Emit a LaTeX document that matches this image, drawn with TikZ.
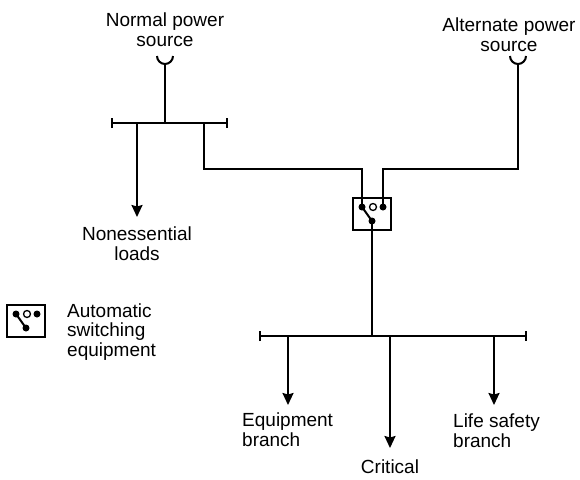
\documentclass[tikz,border=0pt]{standalone}
\usepackage{fontspec}
\setmainfont{Liberation Sans}
\usetikzlibrary{arrows.meta}
\tikzset{
  wire/.style={line width=2pt},
  feed/.style={wire,-{Stealth[length=12pt,width=11pt,inset=1.5pt]}},
  bus/.style={wire,{Bar[width=10pt]}-{Bar[width=10pt]}},
  lbl/.style={font=\fontsize{19}{19.5}\selectfont,text=black,inner sep=0pt},
  dotc/.style={circle,fill,inner sep=0pt,minimum size=7pt},
  opendot/.style={circle,draw,line width=1.3pt,inner sep=0pt,minimum size=7pt},
  switchbox/.pic={
    \draw[line width=2.4pt] (-19,-16) rectangle (19,16);
    \node[dotc] (-l) at (-10,-7) {};
    \node[opendot] (-o) at (1,-7) {};
    \node[dotc] (-r) at (11,-7) {};
    \node[dotc] (-b) at (0,7) {};
    \draw[wire] (-l.center) -- (-b.center);
  }
}
\begin{document}
\begin{tikzpicture}[x=1pt,y=-1pt]
  \useasboundingbox (0,0) rectangle (580,479);
  % sources
  \node[lbl,align=center,anchor=base] (normal) at (165,46) {Normal power\\source};
  \node[lbl,align=center,anchor=base] (alternate) at (509,51) {Alternate power\\source};
  \coordinate (ns) at (165,64);
  \coordinate (as) at (518,64);
  \draw[wire] (ns) ++(-8,-8) arc[start angle=180,end angle=360,radius=8pt];
  \draw[wire] (as) ++(-8,-8) arc[start angle=180,end angle=360,radius=8pt];
  % upper bus
  \coordinate (upl) at (111,123);
  \coordinate (upr) at (228,123);
  \draw[bus] (upl) -- (upr);
  \draw[wire] (ns) -- (ns |- upl);
  \coordinate (ne) at (137,123);
  \coordinate (neend) at (137,217);
  \draw[feed] (ne) -- (neend);
  \node[lbl,align=center,anchor=base] (nonessential) at (137,260) {Nonessential\\loads};
  % transfer switch
  \pic (ats) at (372,214) {switchbox};
  \coordinate (tap) at (204,123);
  \draw[wire] (tap) -- ++(0,46) -| (ats-l.center);
  \draw[wire] (as) -- ++(0,105) -| (ats-r.center);
  % lower bus
  \coordinate (lowl) at (259,336);
  \coordinate (lowr) at (527,336);
  \draw[bus] (lowl) -- (lowr);
  \draw[wire] (ats-b.center) -- (ats-b.center |- lowl);
  \coordinate (eq) at (288,336);
  \coordinate (cr) at (390,336);
  \coordinate (ls) at (494,336);
  \coordinate (eqend) at (288,405);
  \coordinate (crend) at (390,448);
  \coordinate (lsend) at (494,405);
  \draw[feed] (eq) -- (eqend);
  \draw[feed] (cr) -- (crend);
  \draw[feed] (ls) -- (lsend);
  \node[lbl,align=left,anchor=base west] (equipment) at (242,446) {Equipment\\branch};
  \node[lbl,anchor=base] (critical) at (390,473) {Critical};
  \node[lbl,align=left,anchor=base west] (lifesafety) at (453,447) {Life safety\\branch};
  % key
  \pic (key) at (26,321) {switchbox};
  \node[lbl,align=left,anchor=base west] (keytext) at (67,356) {Automatic\\switching\\equipment};
\end{tikzpicture}
\end{document}
